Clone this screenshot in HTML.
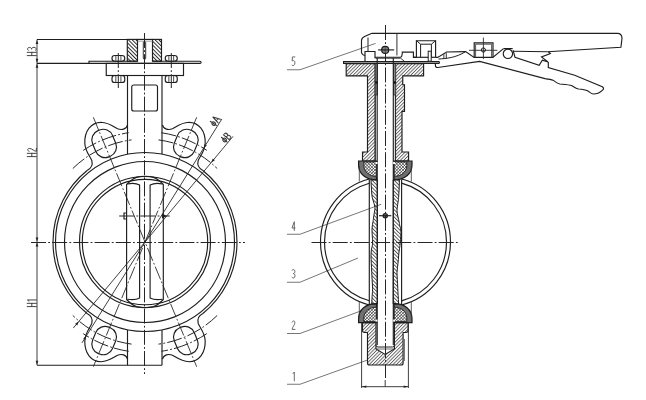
<!DOCTYPE html>
<html><head><meta charset="utf-8"><style>html,body{margin:0;padding:0;background:#fff;}svg{display:block;}</style></head>
<body><svg width="646" height="400" viewBox="0 0 646 400">
<rect width="646" height="400" fill="#fff"/>
<line x1="37.00" y1="39.50" x2="37.00" y2="365.20" stroke="#2a2a2a" stroke-width="0.9" fill="none"/>
<line x1="37.00" y1="39.50" x2="127.30" y2="39.50" stroke="#1e1e1e" stroke-width="1.15" fill="none"/>
<line x1="37.00" y1="63.30" x2="89.00" y2="63.30" stroke="#1e1e1e" stroke-width="1.15" fill="none"/>
<line x1="37.00" y1="365.20" x2="162.00" y2="365.20" stroke="#1e1e1e" stroke-width="1.15" fill="none"/>
<path d="M37.00,39.90 L38.35,43.90 L35.65,43.90 Z" fill="#222"/>
<path d="M37.00,62.80 L35.65,58.80 L38.35,58.80 Z" fill="#222"/>
<path d="M37.00,63.80 L38.35,67.80 L35.65,67.80 Z" fill="#222"/>
<path d="M37.00,241.50 L35.65,237.50 L38.35,237.50 Z" fill="#222"/>
<path d="M37.00,242.50 L38.35,246.50 L35.65,246.50 Z" fill="#222"/>
<path d="M37.00,364.70 L35.65,360.70 L38.35,360.70 Z" fill="#222"/>
<line x1="31.00" y1="242.50" x2="245.00" y2="242.50" stroke="#262626" stroke-width="1.0" fill="none" stroke-dasharray="15 2.2 1.8 2.2"/>
<g transform="translate(27.20,55.60) rotate(-90) scale(1.022,1.022)" fill="none" stroke="#3a3a3a" stroke-width="0.93" stroke-linecap="round" stroke-linejoin="round"><path transform="translate(0.00,0)" d="M0,0 L0,9 M3.2,0 L3.2,9 M0,4.5 L3.2,4.5"/><path transform="translate(5.10,0)" d="M0.1,0.9 C0.9,0 2.9,0 2.9,2.2 C2.9,3.8 2,4.3 1.1,4.3 C2.2,4.3 3.0,5 3.0,6.6 C3.0,9 1,9.2 0.1,8.3"/></g>
<g transform="translate(27.20,156.60) rotate(-90) scale(1.022,1.022)" fill="none" stroke="#3a3a3a" stroke-width="0.93" stroke-linecap="round" stroke-linejoin="round"><path transform="translate(0.00,0)" d="M0,0 L0,9 M3.2,0 L3.2,9 M0,4.5 L3.2,4.5"/><path transform="translate(5.10,0)" d="M0.1,1.8 C0.5,0.1 2.9,-0.3 2.9,2.3 C2.9,4.6 0.1,6.8 0.1,9 L3.0,9"/></g>
<g transform="translate(27.20,306.60) rotate(-90) scale(1.022,1.022)" fill="none" stroke="#3a3a3a" stroke-width="0.93" stroke-linecap="round" stroke-linejoin="round"><path transform="translate(0.00,0)" d="M0,0 L0,9 M3.2,0 L3.2,9 M0,4.5 L3.2,4.5"/><path transform="translate(4.80,0)" d="M0.5,1.7 L1.7,0.2 L1.7,9"/></g>
<defs><pattern id="hb" patternUnits="userSpaceOnUse" width="2.7" height="4" patternTransform="rotate(-45)"><line x1="0.5" y1="0" x2="0.5" y2="4" stroke="#222" stroke-width="0.95"/></pattern><pattern id="hf" patternUnits="userSpaceOnUse" width="2.4" height="4" patternTransform="rotate(45)"><line x1="0.5" y1="0" x2="0.5" y2="4" stroke="#333" stroke-width="0.8"/></pattern><pattern id="hx" patternUnits="userSpaceOnUse" width="2.2" height="2.2" patternTransform="rotate(45)"><rect width="2.2" height="2.2" fill="#fff"/><line x1="0.3" y1="0" x2="0.3" y2="2.2" stroke="#333" stroke-width="0.6"/><line x1="0" y1="0.3" x2="2.2" y2="0.3" stroke="#333" stroke-width="0.6"/></pattern><pattern id="hd" patternUnits="userSpaceOnUse" width="2.6" height="4" patternTransform="rotate(-45)"><line x1="0.5" y1="0" x2="0.5" y2="4" stroke="#333" stroke-width="0.85"/></pattern></defs>
<rect x="127.30" y="39.40" width="10.20" height="21.80" rx="0" fill="url(#hb)" stroke="#1e1e1e" stroke-width="1.15"/>
<rect x="152.50" y="39.40" width="9.00" height="21.80" rx="0" fill="url(#hb)" stroke="#1e1e1e" stroke-width="1.15"/>
<line x1="137.50" y1="39.40" x2="152.50" y2="39.40" stroke="#1e1e1e" stroke-width="1.15" fill="none"/>
<line x1="137.50" y1="41.20" x2="152.50" y2="41.20" stroke="#888" stroke-width="0.8"/>
<rect x="143.30" y="41.60" width="2.40" height="17.60" rx="1.1" stroke="#1e1e1e" stroke-width="0.9" fill="none"/>
<path d="M137.5,61.2 L89,61.2 L89,63.4 L200,63.4 A1.1,1.1 0 0 0 200,61.2 L152.5,61.2" stroke="#1e1e1e" stroke-width="1.15" fill="none"/>
<rect x="106.25" y="63.40" width="77.25" height="12.10" rx="0" stroke="#1e1e1e" stroke-width="1.15" fill="none"/>
<rect x="112.00" y="55.50" width="12.75" height="5.70" rx="2.8" ry="2.6" stroke="#1e1e1e" stroke-width="1.15" fill="none"/>
<line x1="115.83" y1="56.00" x2="115.83" y2="60.70" stroke="#1e1e1e" stroke-width="0.8"/>
<line x1="120.92" y1="56.00" x2="120.92" y2="60.70" stroke="#1e1e1e" stroke-width="0.8"/>
<rect x="112.00" y="75.50" width="12.75" height="7.00" rx="2.8" ry="2.6" stroke="#1e1e1e" stroke-width="1.15" fill="none"/>
<line x1="115.83" y1="76.00" x2="115.83" y2="82.00" stroke="#1e1e1e" stroke-width="0.8"/>
<line x1="120.92" y1="76.00" x2="120.92" y2="82.00" stroke="#1e1e1e" stroke-width="0.8"/>
<rect x="165.25" y="55.50" width="12.00" height="5.70" rx="2.8" ry="2.6" stroke="#1e1e1e" stroke-width="1.15" fill="none"/>
<line x1="168.85" y1="56.00" x2="168.85" y2="60.70" stroke="#1e1e1e" stroke-width="0.8"/>
<line x1="173.65" y1="56.00" x2="173.65" y2="60.70" stroke="#1e1e1e" stroke-width="0.8"/>
<rect x="165.25" y="75.50" width="12.00" height="7.00" rx="2.8" ry="2.6" stroke="#1e1e1e" stroke-width="1.15" fill="none"/>
<line x1="168.85" y1="76.00" x2="168.85" y2="82.00" stroke="#1e1e1e" stroke-width="0.8"/>
<line x1="173.65" y1="76.00" x2="173.65" y2="82.00" stroke="#1e1e1e" stroke-width="0.8"/>
<line x1="118.30" y1="53.00" x2="118.30" y2="88.00" stroke="#262626" stroke-width="1.0" fill="none" stroke-dasharray="15 2.2 1.8 2.2"/>
<line x1="171.30" y1="53.00" x2="171.30" y2="88.00" stroke="#262626" stroke-width="1.0" fill="none" stroke-dasharray="15 2.2 1.8 2.2"/>
<line x1="127.50" y1="75.50" x2="127.50" y2="154.20" stroke="#1e1e1e" stroke-width="1.15" fill="none"/>
<line x1="162.00" y1="75.50" x2="162.00" y2="154.20" stroke="#1e1e1e" stroke-width="1.15" fill="none"/>
<rect x="131.75" y="85.00" width="25.75" height="26.00" rx="2" stroke="#1e1e1e" stroke-width="1.15" fill="none"/>
<line x1="127.50" y1="330.00" x2="127.50" y2="365.20" stroke="#1e1e1e" stroke-width="1.15" fill="none"/>
<line x1="162.00" y1="330.00" x2="162.00" y2="365.20" stroke="#1e1e1e" stroke-width="1.15" fill="none"/>
<line x1="144.50" y1="33.00" x2="144.50" y2="374.00" stroke="#262626" stroke-width="1.0" fill="none" stroke-dasharray="15 2.2 1.8 2.2"/>
<circle cx="145.00" cy="242.00" r="89.50" stroke="#1e1e1e" stroke-width="1.15" fill="none"/>
<circle cx="145.00" cy="242.00" r="80.50" stroke="#1e1e1e" stroke-width="1.15" fill="none"/>
<circle cx="145.00" cy="242.00" r="65.50" stroke="#1e1e1e" stroke-width="1.15" fill="none"/>
<circle cx="145.00" cy="242.00" r="62.70" stroke="#1e1e1e" stroke-width="1.15" fill="none"/>
<path d="M87.10,313.50 A92.00,92.00 0 0 1 87.10,170.50" stroke="#1e1e1e" stroke-width="1.15" fill="none"/>
<path d="M202.90,170.50 A92.00,92.00 0 0 1 202.90,313.50" stroke="#1e1e1e" stroke-width="1.15" fill="none"/>
<path d="M127.5,124.8 C126.5,129.5 121.5,130.5 117,128.5 C112,125.5 108,122.5 101,122.3 C91,122.3 84.5,131 84.8,143 C85,151 89.5,155.5 91.8,160.5 C93,165 91,168.5 87.1,170.5" stroke="#1e1e1e" stroke-width="1.15" fill="none"/>
<path d="M 162.50 124.80 C 163.50 129.50 168.50 130.50 173.00 128.50 C 178.00 125.50 182.00 122.50 189.00 122.30 C 199.00 122.30 205.50 131.00 205.20 143.00 C 205.00 151.00 200.50 155.50 198.20 160.50 C 197.00 165.00 199.00 168.50 202.90 170.50" stroke="#1e1e1e" stroke-width="1.15" fill="none"/>
<path d="M 127.50 359.20 C 126.50 354.50 121.50 353.50 117.00 355.50 C 112.00 358.50 108.00 361.50 101.00 361.70 C 91.00 361.70 84.50 353.00 84.80 341.00 C 85.00 333.00 89.50 328.50 91.80 323.50 C 93.00 319.00 91.00 315.50 87.10 313.50" stroke="#1e1e1e" stroke-width="1.15" fill="none"/>
<path d="M 162.50 359.20 C 163.50 354.50 168.50 353.50 173.00 355.50 C 178.00 358.50 182.00 361.50 189.00 361.70 C 199.00 361.70 205.50 353.00 205.20 341.00 C 205.00 333.00 200.50 328.50 198.20 323.50 C 197.00 319.00 199.00 315.50 202.90 313.50" stroke="#1e1e1e" stroke-width="1.15" fill="none"/>
<rect x="175.03" y="129.22" width="21.60" height="28.40" rx="10" ry="10" transform="rotate(22.50 185.83 143.42)" stroke="#1e1e1e" stroke-width="1.15" fill="none"/>
<line x1="196.66" y1="117.28" x2="93.34" y2="366.72" stroke="#2a2a2a" stroke-width="0.9" fill="none" stroke-dasharray="14 2.2 1.8 2.2"/>
<rect x="175.03" y="326.38" width="21.60" height="28.40" rx="10" ry="10" transform="rotate(-22.50 185.83 340.58)" stroke="#1e1e1e" stroke-width="1.15" fill="none"/>
<rect x="93.37" y="129.22" width="21.60" height="28.40" rx="10" ry="10" transform="rotate(-22.50 104.17 143.42)" stroke="#1e1e1e" stroke-width="1.15" fill="none"/>
<line x1="93.34" y1="117.28" x2="196.66" y2="366.72" stroke="#2a2a2a" stroke-width="0.9" fill="none" stroke-dasharray="14 2.2 1.8 2.2"/>
<rect x="93.37" y="326.38" width="21.60" height="28.40" rx="10" ry="10" transform="rotate(22.50 104.17 340.58)" stroke="#1e1e1e" stroke-width="1.15" fill="none"/>
<path d="M83.21,150.39 A110.50,110.50 0 0 1 128.67,132.71" stroke="#262626" stroke-width="1.0" fill="none" stroke-dasharray="15 2.2 1.8 2.2"/>
<path d="M72.81,168.54 A103.00,103.00 0 0 1 131.56,139.88" stroke="#262626" stroke-width="1.0" fill="none" stroke-dasharray="15 2.2 1.8 2.2"/>
<path d="M161.33,132.71 A110.50,110.50 0 0 1 206.79,150.39" stroke="#262626" stroke-width="1.0" fill="none" stroke-dasharray="15 2.2 1.8 2.2"/>
<path d="M158.44,139.88 A103.00,103.00 0 0 1 217.19,168.54" stroke="#262626" stroke-width="1.0" fill="none" stroke-dasharray="15 2.2 1.8 2.2"/>
<path d="M206.79,333.61 A110.50,110.50 0 0 1 161.33,351.29" stroke="#262626" stroke-width="1.0" fill="none" stroke-dasharray="15 2.2 1.8 2.2"/>
<path d="M217.19,315.46 A103.00,103.00 0 0 1 158.44,344.12" stroke="#262626" stroke-width="1.0" fill="none" stroke-dasharray="15 2.2 1.8 2.2"/>
<path d="M128.67,351.29 A110.50,110.50 0 0 1 83.21,333.61" stroke="#262626" stroke-width="1.0" fill="none" stroke-dasharray="15 2.2 1.8 2.2"/>
<path d="M131.56,344.12 A103.00,103.00 0 0 1 72.81,315.46" stroke="#262626" stroke-width="1.0" fill="none" stroke-dasharray="15 2.2 1.8 2.2"/>
<path d="M126.6,299.5 L126.6,184.5 C129.5,181.5 132.5,178.8 136.5,177.4 C141,176.2 149,176.2 153.5,177.4 C157.5,178.8 160.5,181.5 163.3,184.5 L163.3,299.5 C160.5,302.5 157.5,305.2 153.5,306.6 C149,307.8 141,307.8 136.5,306.6 C132.5,305.2 129.5,302.5 126.6,299.5 Z" stroke="#1e1e1e" stroke-width="1.15" fill="none"/>
<path d="M127.4,184 C131,183.2 136,183 139.6,185 L139.6,298 C136,300 131,299.8 127.4,299.2" stroke="#1e1e1e" stroke-width="1.15" fill="none"/>
<path d="M162.5,184 C159,183.2 154,183 150.1,185 L150.1,298 C154,300 159,299.8 162.5,299.2" stroke="#1e1e1e" stroke-width="1.15" fill="none"/>
<line x1="119.20" y1="216.00" x2="169.80" y2="216.00" stroke="#262626" stroke-width="1.0" fill="none" stroke-dasharray="15 2.2 1.8 2.2"/>
<path d="M126,213 L124,213 L124,219 L126,219" stroke="#222" stroke-width="1.2" fill="none"/>
<path d="M162,213.5 L167,216 L162,218.5 Z" fill="#222"/>
<line x1="221.84" y1="119.03" x2="81.94" y2="342.92" stroke="#2a2a2a" stroke-width="0.9" fill="none"/>
<path d="M203.56,148.29 L204.53,144.18 L206.82,145.61 Z" fill="#222"/>
<path d="M86.44,335.71 L85.47,339.82 L83.18,338.39 Z" fill="#222"/>
<line x1="233.02" y1="136.36" x2="73.31" y2="328.05" stroke="#2a2a2a" stroke-width="0.9" fill="none"/>
<path d="M211.25,162.48 L212.77,158.55 L214.85,160.27 Z" fill="#222"/>
<path d="M78.75,321.52 L77.23,325.45 L75.15,323.73 Z" fill="#222"/>
<g transform="translate(209.15,122.96) rotate(-58) scale(1.182,0.844)" fill="none" stroke="#3a3a3a" stroke-width="1.01" stroke-linecap="round" stroke-linejoin="round"><path transform="translate(0.00,0)" d="M1.6,0 L1.6,9 M1.6,2.6 C-0.3,2.6 -0.3,7.4 1.6,7.4 C3.5,7.4 3.5,2.6 1.6,2.6"/><path transform="translate(4.10,0)" d="M0,9 L1.8,0 L3.6,9 M0.7,6 L2.9,6"/></g>
<g transform="translate(220.16,138.69) rotate(-50.2) scale(1.182,0.844)" fill="none" stroke="#3a3a3a" stroke-width="1.01" stroke-linecap="round" stroke-linejoin="round"><path transform="translate(0.00,0)" d="M1.6,0 L1.6,9 M1.6,2.6 C-0.3,2.6 -0.3,7.4 1.6,7.4 C3.5,7.4 3.5,2.6 1.6,2.6"/><path transform="translate(4.10,0)" d="M0.2,0.2 L0.2,9 L1.9,9 C3.4,9 3.4,4.5 1.9,4.5 L0.2,4.5 M0.2,0.2 L1.7,0.2 C3.1,0.2 3.1,4.5 1.7,4.5"/></g>
<g transform="translate(292.00,56.75) rotate(0) scale(1.000,1.000)" fill="none" stroke="#5a5a5a" stroke-width="0.90" stroke-linecap="round" stroke-linejoin="round"><path transform="translate(0.00,0)" d="M2.9,0.2 L0.4,0.2 L0.2,4.3 C0.8,3.6 2.9,3.4 2.9,6.1 C2.9,8.8 1.1,9.3 0.1,8.6"/></g>
<path d="M287,69.75 L300,69.75 L375.6,43.4" stroke="#666" stroke-width="0.9" fill="none"/>
<g transform="translate(292.00,221.50) rotate(0) scale(1.000,1.000)" fill="none" stroke="#5a5a5a" stroke-width="0.90" stroke-linecap="round" stroke-linejoin="round"><path transform="translate(0.00,0)" d="M2.3,9 L2.3,0.2 L0,6.5 L3.1,6.5"/></g>
<path d="M287,234.25 L300,234.25 L381.25,204.25" stroke="#666" stroke-width="0.9" fill="none"/>
<g transform="translate(292.00,269.25) rotate(0) scale(1.000,1.000)" fill="none" stroke="#5a5a5a" stroke-width="0.90" stroke-linecap="round" stroke-linejoin="round"><path transform="translate(0.00,0)" d="M0.1,0.9 C0.9,0 2.9,0 2.9,2.2 C2.9,3.8 2,4.3 1.1,4.3 C2.2,4.3 3.0,5 3.0,6.6 C3.0,9 1,9.2 0.1,8.3"/></g>
<path d="M287,282.25 L300,282.25 L358,258" stroke="#666" stroke-width="0.9" fill="none"/>
<g transform="translate(292.00,320.40) rotate(0) scale(1.000,1.000)" fill="none" stroke="#5a5a5a" stroke-width="0.90" stroke-linecap="round" stroke-linejoin="round"><path transform="translate(0.00,0)" d="M0.1,1.8 C0.5,0.1 2.9,-0.3 2.9,2.3 C2.9,4.6 0.1,6.8 0.1,9 L3.0,9"/></g>
<path d="M287,333.5 L300,333.5 L360,311.25" stroke="#666" stroke-width="0.9" fill="none"/>
<g transform="translate(292.60,371.80) rotate(0) scale(1.000,1.000)" fill="none" stroke="#5a5a5a" stroke-width="0.90" stroke-linecap="round" stroke-linejoin="round"><path transform="translate(0.00,0)" d="M0.5,1.7 L1.7,0.2 L1.7,9"/></g>
<path d="M287,384.25 L300,384.25 L367.5,360" stroke="#666" stroke-width="0.9" fill="none"/>
<path d="M369.30,179.05 A65,65 0 0 0 369.30,304.95" stroke="#1e1e1e" stroke-width="1.15" fill="none"/>
<path d="M401.60,179.03 A65,65 0 0 1 401.60,304.97" stroke="#1e1e1e" stroke-width="1.15" fill="none"/>
<path d="M369.30,183.19 A61,61 0 0 0 369.30,300.81" stroke="#1e1e1e" stroke-width="1.15" fill="none"/>
<path d="M401.60,183.16 A61,61 0 0 1 401.60,300.84" stroke="#1e1e1e" stroke-width="1.15" fill="none"/>
<line x1="311.50" y1="242.50" x2="459.00" y2="242.50" stroke="#262626" stroke-width="1.0" fill="none" stroke-dasharray="15 2.2 1.8 2.2"/>
<path d="M346.2,63.6 L375.1,63.6 L375.1,161 L362.5,161 L362.5,152 L367.5,152 L367.5,75.9 L346.2,75.9 Z" fill="url(#hf)" stroke="#1e1e1e" stroke-width="1.15"/>
<path d="M395.4,63.6 L423.6,63.6 L423.6,75.9 L402.75,75.9 L402.75,84.75 L404.5,84.75 L404.5,111.4 L402,111.4 L402,152 L408.6,152 L408.6,161 L395.4,161 Z" fill="url(#hf)" stroke="#1e1e1e" stroke-width="1.15"/>
<rect x="375.2" y="63.5" width="2.3" height="31.5" fill="#8a8a8a" stroke="#222" stroke-width="0.7"/>
<rect x="375.2" y="81.3" width="2.3" height="2.4" fill="#111"/>
<rect x="393.5" y="63.5" width="2.3" height="31.5" fill="#8a8a8a" stroke="#222" stroke-width="0.7"/>
<rect x="393.5" y="81.3" width="2.3" height="2.4" fill="#111"/>
<line x1="375.40" y1="95.00" x2="375.40" y2="161.00" stroke="#333" stroke-width="0.8"/>
<line x1="395.60" y1="95.00" x2="395.60" y2="161.00" stroke="#333" stroke-width="0.8"/>
<line x1="377.20" y1="58.00" x2="377.20" y2="346.40" stroke="#1e1e1e" stroke-width="1.15" fill="none"/>
<line x1="393.30" y1="58.00" x2="393.30" y2="346.40" stroke="#1e1e1e" stroke-width="1.15" fill="none"/>
<path d="M 358.60 161.00 L 376.50 161.00 L 376.50 179.90 C 366.00 179.90 358.60 174.00 358.60 165.00 Z" fill="#707070" stroke="#1a1a1a" stroke-width="1.2"/>
<path d="M 363.80 162.00 L 376.40 162.00 L 376.40 176.40 C 370.00 176.40 363.80 172.50 363.80 165.50 Z" fill="url(#hx)" stroke="#222" stroke-width="0.9"/>
<rect x="375.50" y="162.00" width="2" height="2" fill="#fff"/>
<line x1="359.30" y1="166.00" x2="359.30" y2="181.50" stroke="#333" stroke-width="0.8"/>
<path d="M 358.60 322.60 L 376.50 322.60 L 376.50 303.70 C 366.00 303.70 358.60 309.60 358.60 318.60 Z" fill="#707070" stroke="#1a1a1a" stroke-width="1.2"/>
<path d="M 363.80 321.60 L 376.40 321.60 L 376.40 307.20 C 370.00 307.20 363.80 311.10 363.80 318.10 Z" fill="url(#hx)" stroke="#222" stroke-width="0.9"/>
<rect x="375.50" y="319.60" width="2" height="2" fill="#fff"/>
<line x1="359.30" y1="317.60" x2="359.30" y2="302.10" stroke="#333" stroke-width="0.8"/>
<path d="M 412.00 161.00 L 394.10 161.00 L 394.10 179.90 C 404.60 179.90 412.00 174.00 412.00 165.00 Z" fill="#707070" stroke="#1a1a1a" stroke-width="1.2"/>
<path d="M 406.80 162.00 L 394.20 162.00 L 394.20 176.40 C 400.60 176.40 406.80 172.50 406.80 165.50 Z" fill="url(#hx)" stroke="#222" stroke-width="0.9"/>
<rect x="393.10" y="162.00" width="2" height="2" fill="#fff"/>
<line x1="411.30" y1="166.00" x2="411.30" y2="181.50" stroke="#333" stroke-width="0.8"/>
<path d="M 412.00 322.60 L 394.10 322.60 L 394.10 303.70 C 404.60 303.70 412.00 309.60 412.00 318.60 Z" fill="#707070" stroke="#1a1a1a" stroke-width="1.2"/>
<path d="M 406.80 321.60 L 394.20 321.60 L 394.20 307.20 C 400.60 307.20 406.80 311.10 406.80 318.10 Z" fill="url(#hx)" stroke="#222" stroke-width="0.9"/>
<rect x="393.10" y="319.60" width="2" height="2" fill="#fff"/>
<line x1="411.30" y1="317.60" x2="411.30" y2="302.10" stroke="#333" stroke-width="0.8"/>
<line x1="369.30" y1="179.50" x2="369.30" y2="304.00" stroke="#1e1e1e" stroke-width="1.15" fill="none"/>
<line x1="401.60" y1="179.50" x2="401.60" y2="304.00" stroke="#1e1e1e" stroke-width="1.15" fill="none"/>
<path d="M377.4,179.8 L377.4,304 L371.75,304 C372,296 372.6,292 372.6,288.8 C372.4,282 371.8,276 371.75,272.5 C371.5,266 371,260 371,256 C371,248 372.6,246 372.6,243 C372.6,238 372,234 372,230 C372.2,224 373.4,221 373.4,218.7 C374,214 375,210 375,207.3 C374,202 371.8,198 371.8,194.3 C371.5,188 371,184 371,179.8 Z" fill="url(#hd)" stroke="#1e1e1e" stroke-width="1.0"/>
<path d="M393.2,179.8 L393.2,304 L398.6,304 C398.4,298 397.8,292 397.8,288.8 C397.6,282 397,276 397,272.5 C397.5,266 398.6,260 398.6,256 C399,250 400.2,246 400.2,243 C400.6,238 401,234 401,231.7 C400.5,227 399.4,225 399.4,223.5 C398.5,218 397,214 397,210.5 C397.5,204 398.6,200 398.6,197.5 C399,192 399.4,186 399.4,179.8 Z" fill="url(#hd)" stroke="#1e1e1e" stroke-width="1.0"/>
<circle cx="385.25" cy="215.7" r="2.2" fill="#666" stroke="#1e1e1e" stroke-width="1.1"/>
<line x1="379.00" y1="215.70" x2="391.30" y2="215.70" stroke="#1e1e1e" stroke-width="1.15" fill="none"/>
<path d="M362.5,322.6 L376,322.6 L376,349 L385.1,354.4 L394.4,349 L394.4,322.6 L408.1,322.6 L408.1,330.6 Q408.1,332.5 406,332.5 L403.1,332.5 L403.1,363 Q403.1,365 401.2,365 L369.4,365 Q367.5,365 367.5,363 L367.5,332.5 L364.5,332.5 Q362.5,332.5 362.5,330.6 Z" fill="url(#hf)" stroke="#1e1e1e" stroke-width="1.15"/>
<path d="M376,345 Q376,347 378,347 L392.4,347 Q394.4,347 394.4,345" stroke="#1e1e1e" stroke-width="1" fill="#fff"/>
<line x1="376.00" y1="349.00" x2="394.40" y2="349.00" stroke="#444" stroke-width="0.8"/>
<line x1="404.50" y1="339.00" x2="404.50" y2="361.00" stroke="#555" stroke-width="0.8"/>
<line x1="361.60" y1="322.60" x2="361.60" y2="388.00" stroke="#2a2a2a" stroke-width="0.9" fill="none"/>
<line x1="408.40" y1="322.60" x2="408.40" y2="388.00" stroke="#2a2a2a" stroke-width="0.9" fill="none"/>
<line x1="361.60" y1="386.70" x2="408.40" y2="386.70" stroke="#2a2a2a" stroke-width="0.9" fill="none"/>
<path d="M361.80,386.70 L366.30,385.60 L366.30,387.80 Z" fill="#222"/>
<path d="M408.20,386.70 L403.70,387.80 L403.70,385.60 Z" fill="#222"/>
<line x1="385.20" y1="380.00" x2="385.20" y2="386.70" stroke="#2a2a2a" stroke-width="0.9" fill="none"/>
<line x1="385.50" y1="25.00" x2="385.50" y2="378.00" stroke="#262626" stroke-width="1.0" fill="none" stroke-dasharray="15 2.2 1.8 2.2"/>
<path d="M343.6,63.3 L343.6,61.6 L439,61.6 A1.1,1.1 0 0 1 439,63.3 Z" stroke="#1e1e1e" stroke-width="1.15" fill="none"/>
<path d="M372,33.3 L617.5,33.3 C620.5,33.3 622,35.5 622,38.5 L620.9,47.3 L547.5,51.8" stroke="#1e1e1e" stroke-width="1.15" fill="none"/>
<path d="M372,33.2 L364.5,36.5 Q361.5,38 361.5,40.5 L361.5,52.5 Q362,55 365,55.5" stroke="#1e1e1e" stroke-width="1.15" fill="none"/>
<path d="M365,61.7 L365,51.5 L375,51.5 L375,58.2" stroke="#1e1e1e" stroke-width="1.15" fill="none"/>
<line x1="368.00" y1="37.50" x2="368.00" y2="51.00" stroke="#555" stroke-width="1.3"/>
<line x1="396.90" y1="33.80" x2="396.90" y2="55.50" stroke="#444" stroke-width="1.1"/>
<path d="M375,57.2 L400.5,57.2 Q402.3,57 402.3,52.1 L413.4,52.1 L413.4,57.3 L416.4,57.3" stroke="#1e1e1e" stroke-width="1.15" fill="none"/>
<path d="M375.5,58.2 L400.5,58.2 L404.5,61.4" stroke="#1e1e1e" stroke-width="0.9" fill="none"/>
<circle cx="385.2" cy="49.9" r="3.5" fill="#8a8a8a" stroke="#1a1a1a" stroke-width="1.2"/>
<line x1="385.20" y1="46.60" x2="385.20" y2="53.20" stroke="#333" stroke-width="0.7"/>
<line x1="378.10" y1="49.90" x2="394.20" y2="49.90" stroke="#1e1e1e" stroke-width="1.15" fill="none"/>
<path d="M416.4,57.3 L416.4,40.7 L435.6,40.7 L435.6,57.3" stroke="#1e1e1e" stroke-width="1.15" fill="none"/>
<path d="M420.6,57.3 L420.6,44.2 L431.4,44.2 L431.4,57.3" stroke="#1e1e1e" stroke-width="1.0" fill="none"/>
<line x1="416.40" y1="40.70" x2="420.60" y2="44.20" stroke="#1e1e1e" stroke-width="1.0"/>
<line x1="435.60" y1="40.70" x2="431.40" y2="44.20" stroke="#1e1e1e" stroke-width="1.0"/>
<line x1="413.40" y1="57.30" x2="435.60" y2="57.30" stroke="#1e1e1e" stroke-width="1.15" fill="none"/>
<rect x="428.2" y="51.2" width="3" height="10" fill="#fff" stroke="#1e1e1e" stroke-width="1"/>
<path d="M435.4,57.4 L437.7,57.4 L446.6,52 L465.6,51.6 L474.1,57.4 L492.8,57.4 L503.5,48.6" stroke="#1e1e1e" stroke-width="1.15" fill="none"/>
<path d="M438.5,59 C446,58.6 456,57.8 465.6,51.6" stroke="#1e1e1e" stroke-width="1" fill="none"/>
<line x1="443.90" y1="54.30" x2="443.90" y2="59.00" stroke="#1e1e1e" stroke-width="0.9"/>
<line x1="446.30" y1="53.20" x2="446.30" y2="58.70" stroke="#1e1e1e" stroke-width="0.9"/>
<path d="M474.2,57.3 L474.2,42.9 L493,42.9 L493,57.3" stroke="#1e1e1e" stroke-width="1.15" fill="none"/>
<path d="M475.6,57.3 L475.6,44.2 L491.6,44.2 L491.6,57.3" stroke="#444" stroke-width="0.9" fill="none"/>
<circle cx="483.4" cy="50" r="2.1" fill="none" stroke="#1e1e1e" stroke-width="1"/>
<line x1="469.00" y1="50.30" x2="497.40" y2="50.30" stroke="#2a2a2a" stroke-width="0.9" fill="none"/>
<line x1="483.40" y1="37.60" x2="483.40" y2="59.00" stroke="#2a2a2a" stroke-width="0.9" fill="none"/>
<circle cx="507.9" cy="53.8" r="4.7" fill="none" stroke="#1e1e1e" stroke-width="1.15"/>
<path d="M503.5,48.6 L512.7,48.6" stroke="#1e1e1e" stroke-width="1.15" fill="none"/>
<path d="M513.5,51.2 L547.5,51.8" stroke="#1e1e1e" stroke-width="1.15" fill="none"/>
<path d="M513,50.2 L515,57.2 L539.2,65.2 L542.3,60.3 L548,62 L541.5,57 L550.3,53.5 L548.3,51.8" stroke="#1e1e1e" stroke-width="1.15" fill="none"/>
<path d="M548.3,62 L548.3,67.6 L574.7,75.3 L602.3,86.7 Q604.8,88.5 602.3,90.3 C600,92.5 596.5,94 593.1,94 C590.5,93.6 589.5,91.8 587.5,90.8 C585.5,89.8 582,89.3 578.5,89 C575,88.6 573.5,86.3 571.4,85.5 C569,84.6 563,84.3 560,84 C557,83.6 555.5,81.5 553,80.3 C551,79.4 548,79 545,78.6 L479.6,61.4 L437.8,67.5 Q435.4,67.6 435.4,65.5 L435.4,63.3" stroke="#1e1e1e" stroke-width="1.15" fill="none"/>
</svg></body></html>
